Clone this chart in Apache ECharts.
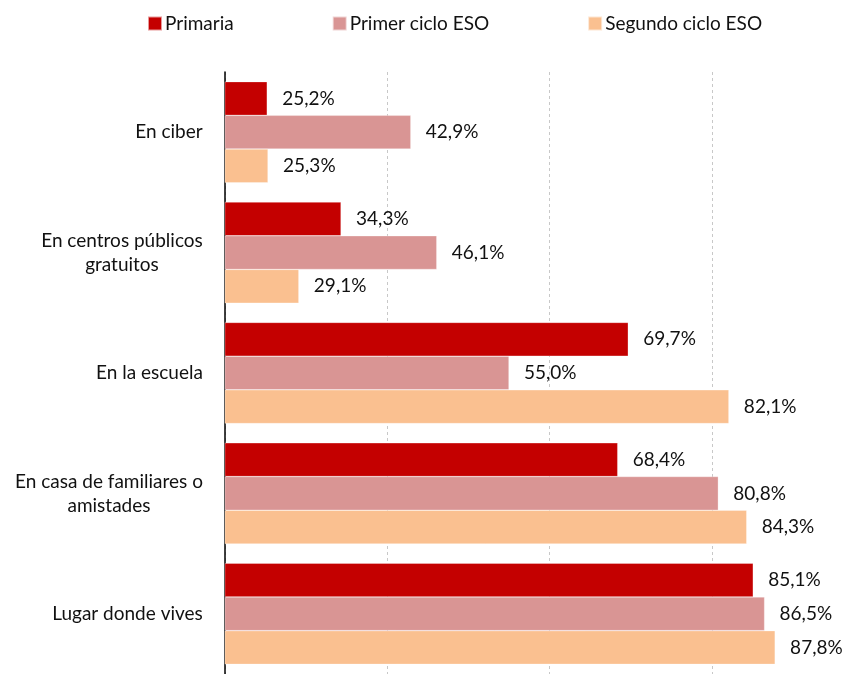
<!DOCTYPE html>
<html lang="es">
<head>
    <meta charset="UTF-8">
    <title>Lugares de uso</title>
    <script src="https://cdn.jsdelivr.net/npm/echarts@6/dist/echarts.min.js"></script>
    <style>
        html, body { margin: 0; padding: 0; background: #fff; }
        #chart { width: 866px; height: 674px; }
    </style>
</head>
<body>
    <div id="chart"></div>
    <script>
        // datos
        const categorias = [
            'En ciber',
            'En centros públicos\ngratuitos',
            'En la escuela',
            'En casa de familiares o\namistades',
            'Lugar donde vives'
        ];
        const primaria = [25.2, 34.3, 69.7, 68.4, 85.1];
        const primerCiclo = [42.9, 46.1, 55.0, 80.8, 86.5];
        const segundoCiclo = [25.3, 29.1, 82.1, 84.3, 87.8];

        const FONT = 'Lato';
        const FS = 19;

        // medir el ancho de la línea más larga para centrar las líneas de cada etiqueta
        const ctx = document.createElement('canvas').getContext('2d');
        ctx.font = FS + 'px ' + FONT;
        const rich = {};
        categorias.forEach((c, i) => {
            const w = Math.max(...c.split('\n').map(l => ctx.measureText(l).width));
            rich['c' + i] = { width: Math.ceil(w), align: 'center', fontSize: FS, fontFamily: FONT, color: '#111', lineHeight: 24 };
        });

        const fmt = p => p.value.toFixed(1).replace('.', ',') + '%';

        function serie(nombre, datos, color) {
            return {
                name: nombre,
                type: 'bar',
                data: datos,
                barGap: '0%',
                barCategoryGap: '16%',
                itemStyle: { color: color, borderColor: 'rgba(255,255,255,0.6)', borderWidth: 0.5 },
                label: {
                    show: true,
                    position: 'right',
                    distance: 15,
                    formatter: fmt,
                    fontSize: FS,
                    fontFamily: FONT,
                    color: '#111'
                }
            };
        }

        const chart = echarts.init(document.getElementById('chart'));
        chart.setOption({
            animation: false,
            textStyle: { fontFamily: FONT },
            legend: {
                top: 14,
                left: 147,
                padding: 0,
                itemWidth: 14,
                itemHeight: 14,
                itemGap: 98,
                icon: 'rect',
                textStyle: { fontSize: FS, fontFamily: FONT, color: '#111', padding: [0, 0, 0, -2] },
                data: ['Primaria', 'Primer ciclo ESO', 'Segundo ciclo ESO']
            },
            grid: { left: 225, right: 0, top: 72, bottom: 0, containLabel: false },
            xAxis: {
                type: 'value',
                min: 20,
                max: 99,
                interval: 20,
                axisLabel: { show: false },
                axisLine: { show: false },
                axisTick: { show: false },
                splitLine: { showMaxLine: false, lineStyle: { color: '#c8c8c8', type: [3, 3], width: 1 } }
            },
            yAxis: {
                type: 'category',
                inverse: true,
                data: categorias,
                axisLine: { lineStyle: { color: '#000', width: 1.5 } },
                axisTick: { length: 6, lineStyle: { color: '#555' } },
                axisLabel: {
                    margin: 22,
                    formatter: (v, i) => v.split('\n').map(l => '{c' + i + '|' + l + '}').join('\n'),
                    rich: rich
                }
            },
            series: [
                serie('Primaria', primaria, '#C40000'),
                serie('Primer ciclo ESO', primerCiclo, '#D99594'),
                serie('Segundo ciclo ESO', segundoCiclo, '#FAC090')
            ]
        });
    </script>
</body>
</html>
